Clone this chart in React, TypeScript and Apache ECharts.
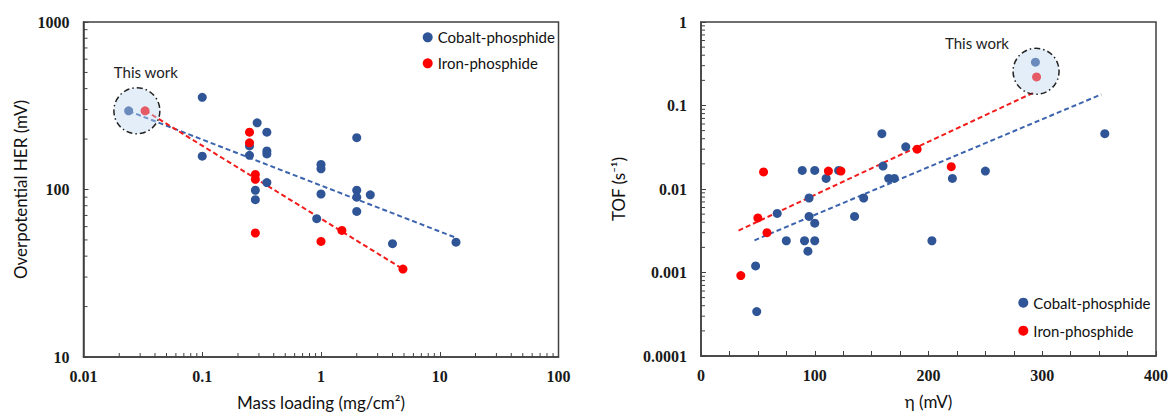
import React, { useEffect, useRef } from "react";
import * as echarts from "echarts";

// ---- Left chart: mass loading (mg/cm2) vs overpotential HER (mV)
const cobaltLoading = [0.024, 0.1, 0.1, 0.25, 0.25, 0.28, 0.28, 0.29, 0.35, 0.35, 0.35, 0.35, 0.92, 1, 1, 1, 2, 2, 2, 2, 2.6, 4, 13.7];
const cobaltEta = [295, 355, 158, 182, 160, 99, 87, 250, 220, 170, 163, 110, 67, 141, 133, 94, 204, 99, 90, 74, 93, 47.5, 48.5];
const ironLoading = [0.033, 0.25, 0.25, 0.28, 0.28, 0.28, 1, 1.5, 4.9];
const ironEta = [295, 220, 190, 123, 115, 55, 49, 57, 33.5];
const cobaltFitLoading = [0.024, 13.7];
const cobaltFitEta = [294, 51.5];
const ironFitLoading = [0.033, 4.9];
const ironFitEta = [296, 33.5];

// ---- Right chart: overpotential η (mV) vs TOF (s-1)
const cobaltEtaR = [48, 49, 67, 75, 89, 91, 94, 95, 95, 100, 100, 100, 110, 121, 135, 143, 159, 160, 165, 170, 180, 203, 221, 250, 294, 355];
const cobaltTof = [0.0012, 0.00034, 0.0051, 0.0024, 0.0167, 0.0024, 0.0018, 0.0078, 0.0047, 0.0167, 0.0024, 0.0039, 0.0134, 0.0167, 0.0047, 0.0078, 0.046, 0.0188, 0.0134, 0.0134, 0.032, 0.0024, 0.0134, 0.0164, 0.33, 0.046];
const ironEtaR = [35, 50, 55, 58, 112, 123, 190, 220, 295];
const ironTof = [0.00092, 0.0045, 0.016, 0.003, 0.0164, 0.0164, 0.03, 0.0185, 0.22];
const cobaltFitEtaR = [47, 352];
const cobaltFitTof = [0.00243, 0.136];
const ironFitEtaR = [33, 292];
const ironFitTof = [0.00318, 0.142];

// "This work" points (index in the series above)
const thisWorkLeft = { cobalt: 0, iron: 0 };
const thisWorkRight = { cobalt: 24, iron: 8 };

const seriesNames = ["Cobalt-phosphide", "Iron-phosphide"];
const leftXTicks = [0.01, 0.1, 1, 10, 100];
const leftYTicks = [10, 100, 1000];
const rightYTicks = [0.0001, 0.001, 0.01, 0.1, 1];

const BLUE = "#2F5597";
const RED = "#FF0000";
const BLUE_FIT = "#3C64AE";
const RED_FIT = "#F21C1C";
const AXIS = "#404040";
const SERIF = "Liberation Serif";

const zip = (a: number[], b: number[]) => a.map((v, i) => [v, b[i]]);

export default function App() {
  const ref = useRef<HTMLDivElement>(null);
  useEffect(() => {
    document.body.style.margin = "0";
    const chart = echarts.init(ref.current!, null, { renderer: "svg" });
    const tickFont = {
      fontFamily: SERIF,
      fontWeight: "bold" as const,
      fontSize: 16,
      color: "#1a1a1a",
    };
    const titleFont = { fontFamily: "Lato", fontSize: 17, color: "#111" };
    const fmt = (v: number) => String(Number(Number(v).toPrecision(6)));
    const axisLine = { show: true, lineStyle: { color: AXIS, width: 1.5 } };
    const axisTick = { show: true, inside: true, length: 5, lineStyle: { color: AXIS, width: 1 } };
    const baseAxis = {
      axisLine,
      axisTick,
      splitLine: { show: false },
      nameLocation: "middle" as const,
      nameTextStyle: titleFont,
      nameMoveOverlap: false,
    };
    const scatter = (name: string, xi: number, x: number[], y: number[], color: string) => ({
      type: "scatter",
      name,
      xAxisIndex: xi,
      yAxisIndex: xi,
      symbol: "circle",
      symbolSize: 9,
      itemStyle: { color, opacity: 1 },
      data: zip(x, y),
      z: 3,
    });
    const fit = (name: string, xi: number, x: number[], y: number[], color: string) => ({
      type: "line",
      name,
      xAxisIndex: xi,
      yAxisIndex: xi,
      symbol: "none",
      showSymbol: false,
      silent: true,
      lineStyle: { color, width: 2, type: [5, 3] },
      data: zip(x, y),
      z: 2,
    });
    const legend = (left: number, top: number, gap: number) => ({
      left,
      top,
      orient: "vertical",
      padding: 0,
      itemWidth: 10,
      itemHeight: 10,
      itemGap: gap,
      icon: "circle",
      selectedMode: false,
      data: seriesNames,
      textStyle: { fontFamily: "Lato", fontSize: 15, color: "#111", lineHeight: 16 },
    });

    chart.setOption({
      animation: false,
      backgroundColor: "#fff",
      textStyle: { fontFamily: SERIF },
      grid: [
        { left: 83.5, top: 22, width: 475, height: 335, show: true, borderColor: AXIS, borderWidth: 1.5, outerBoundsMode: "none" },
        { left: 701, top: 22, width: 455, height: 334, show: true, borderColor: AXIS, borderWidth: 1.5, outerBoundsMode: "none" },
      ],
      legend: [legend(422.7, 29.3, 10), legend(1018.3, 294.7, 12)],
      xAxis: [
        {
          ...baseAxis,
          gridIndex: 0,
          type: "log",
          logBase: 10,
          min: leftXTicks[0],
          max: leftXTicks[leftXTicks.length - 1],
          name: "Mass loading (mg/cm²)",
          nameGap: 37,
          axisLabel: { ...tickFont, margin: 11, formatter: fmt },
        },
        {
          ...baseAxis,
          gridIndex: 1,
          type: "value",
          min: 0,
          max: 400,
          interval: 25,
          name: "η (mV)",
          nameGap: 37,
          axisLabel: { ...tickFont, margin: 11, formatter: (v: number) => (v % 100 === 0 ? String(v) : "") },
        },
      ],
      yAxis: [
        {
          ...baseAxis,
          gridIndex: 0,
          type: "log",
          logBase: 10,
          min: leftYTicks[0],
          max: leftYTicks[leftYTicks.length - 1],
          name: "Overpotential HER (mV)",
          nameRotate: 90,
          nameGap: 55,
          axisLabel: { ...tickFont, margin: 14, formatter: fmt },
        },
        {
          ...baseAxis,
          gridIndex: 1,
          type: "log",
          logBase: 10,
          min: rightYTicks[0],
          max: rightYTicks[rightYTicks.length - 1],
          name: "TOF (s⁻¹)",
          nameRotate: 90,
          nameGap: 74,
          axisLabel: { ...tickFont, margin: 14, formatter: fmt },
        },
      ],
      series: [
        fit("Cobalt fit L", 0, cobaltFitLoading, cobaltFitEta, BLUE_FIT),
        fit("Iron fit L", 0, ironFitLoading, ironFitEta, RED_FIT),
        scatter(seriesNames[0], 0, cobaltLoading, cobaltEta, BLUE),
        scatter(seriesNames[1], 0, ironLoading, ironEta, RED),
        fit("Cobalt fit R", 1, cobaltFitEtaR, cobaltFitTof, BLUE_FIT),
        fit("Iron fit R", 1, ironFitEtaR, ironFitTof, RED_FIT),
        scatter(seriesNames[0], 1, cobaltEtaR, cobaltTof, BLUE),
        scatter(seriesNames[1], 1, ironEtaR, ironTof, RED),
      ],
    });

    // minor log ticks and "This work" annotations
    const g: any[] = [];
    const px = (finder: any, v: number) => chart.convertToPixel(finder, v) as unknown as number;
    const tickLine = (x1: number, y1: number, x2: number, y2: number) => ({
      type: "line",
      silent: true,
      shape: { x1, y1, x2, y2 },
      style: { stroke: AXIS, lineWidth: 1 },
      z: 5,
    });
    const minorValues = (lo: number, hi: number) => {
      const out: number[] = [];
      for (let d = lo; d < hi; d *= 10) for (let k = 2; k <= 9; k++) out.push(d * k);
      return out;
    };
    const lBottom = px({ yAxisIndex: 0 }, leftYTicks[0]);
    const lLeft = px({ xAxisIndex: 0 }, leftXTicks[0]);
    minorValues(leftXTicks[0], leftXTicks[leftXTicks.length - 1]).forEach((v) => {
      const x = px({ xAxisIndex: 0 }, v);
      g.push(tickLine(x, lBottom, x, lBottom - 4));
    });
    minorValues(leftYTicks[0], leftYTicks[leftYTicks.length - 1]).forEach((v) => {
      const y = px({ yAxisIndex: 0 }, v);
      g.push(tickLine(lLeft, y, lLeft + 4, y));
    });
    const rLeft = px({ xAxisIndex: 1 }, 0);
    minorValues(rightYTicks[0], rightYTicks[rightYTicks.length - 1]).forEach((v) => {
      const y = px({ yAxisIndex: 1 }, v);
      g.push(tickLine(rLeft, y, rLeft + 4, y));
    });

    const circleAround = (gi: number, a: number[], b: number[], dx: number, dy: number) => {
      const p1 = chart.convertToPixel({ gridIndex: gi }, a) as number[];
      const p2 = chart.convertToPixel({ gridIndex: gi }, b) as number[];
      const cx = (p1[0] + p2[0]) / 2;
      const cy = (p1[1] + p2[1]) / 2;
      g.push({
        type: "circle",
        silent: true,
        z: 10,
        shape: { cx, cy, r: 23 },
        style: { fill: "rgba(190,215,240,0.42)", stroke: "#222", lineWidth: 1.5, lineDash: [6, 3, 1.5, 3] },
      });
      g.push({
        type: "text",
        silent: true,
        z: 10,
        x: cx + dx,
        y: cy + dy,
        style: {
          text: "This work",
          font: "15px Lato",
          fill: "#222",
          align: "center",
          verticalAlign: "middle",
          textAlign: "center",
          textVerticalAlign: "middle",
        },
      });
    };
    circleAround(
      0,
      [cobaltLoading[thisWorkLeft.cobalt], cobaltEta[thisWorkLeft.cobalt]],
      [ironLoading[thisWorkLeft.iron], ironEta[thisWorkLeft.iron]],
      9,
      -39
    );
    circleAround(
      1,
      [cobaltEtaR[thisWorkRight.cobalt], cobaltTof[thisWorkRight.cobalt]],
      [ironEtaR[thisWorkRight.iron], ironTof[thisWorkRight.iron]],
      -59,
      -27
    );

    chart.setOption({ graphic: g });
    return () => chart.dispose();
  }, []);
  return <div ref={ref} style={{ width: 1170, height: 414 }} />;
}
